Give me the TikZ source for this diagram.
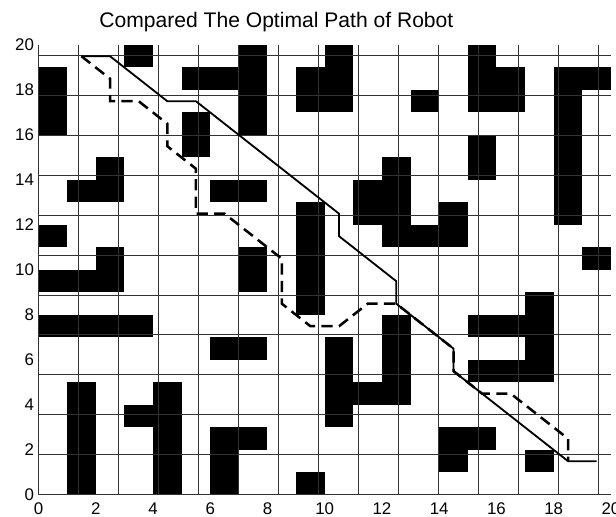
\documentclass[tikz,border=0pt]{standalone}
\usepackage{fontspec}
\setmainfont{Liberation Sans}
\begin{document}
\begin{tikzpicture}[x=0.7157cm, y=0.5625cm]
    \useasboundingbox (-1.345,-0.978) rectangle (20.175,22.0);
    % obstacles, row by row
    \foreach \row/\cols in {19/{3,7,10,15}, 18/{0,5,6,7,9,10,15,16,18,19},
        17/{0,7,9,10,13,15,16,18}, 16/{0,5,7,18}, 15/{5,15,18},
        14/{2,12,15,18}, 13/{1,2,6,7,11,12,18}, 12/{9,11,12,14,18},
        11/{0,9,12,13,14}, 10/{2,7,9,19}, 9/{0,1,2,7,9}, 8/{9,17},
        7/{0,1,2,3,12,15,16,17}, 6/{6,7,10,12,17}, 5/{10,12,15,16,17},
        4/{1,4,10,11,12}, 3/{1,3,4,10}, 2/{1,4,6,7,14,15},
        1/{1,4,6,14,17}, 0/{1,4,6,9}}
        \foreach \c in \cols
            \fill[black] (\c,\row) rectangle ++(1,1);
    \draw[black!80, line width=0.65pt] (0,0) grid (20,20);
    % axis labels
    \foreach \v in {0,2,...,20} {
        \node[anchor=east, inner sep=0pt, font=\fontsize{12}{14}\selectfont] (ylab\v) at (-0.15,\v) {\v};
        \node[inner sep=0pt, font=\fontsize{12}{14}\selectfont] (xlab\v) at (\v,-0.6) {\v};
    }
    \node[font=\fontsize{15}{18}\selectfont] (title) at (8.31,21.04) {Compared The Optimal Path of Robot};
    % paths
    \draw[black, line width=1.8pt, dash pattern=on 8pt off 4.5pt]
        (1.5,19.5) -- (2.5,18.5) -- (2.5,17.5) -- (3.5,17.5) -- (4.5,16.5)
        -- (4.5,15.5) -- (5.5,14.5) -- (5.5,12.5) -- (6.5,12.5) -- (8.5,10.5)
        -- (8.5,8.5) -- (9.5,7.5) -- (10.5,7.5) -- (11.5,8.5) -- (12.5,8.5)
        -- (14.5,6.5) -- (14.5,5.5) -- (15.5,4.5) -- (16.5,4.5) -- (18.5,2.5)
        -- (18.5,1.5);
    \draw[black, line width=1.3pt]
        (1.5,19.5) -- (2.5,19.5) -- (4.5,17.5) -- (5.5,17.5) -- (10.5,12.5)
        -- (10.5,11.5) -- (12.5,9.5) -- (12.5,8.5) -- (14.5,6.5) -- (14.5,5.5)
        -- (18.5,1.5) -- (19.5,1.5);
\end{tikzpicture}
\end{document}
